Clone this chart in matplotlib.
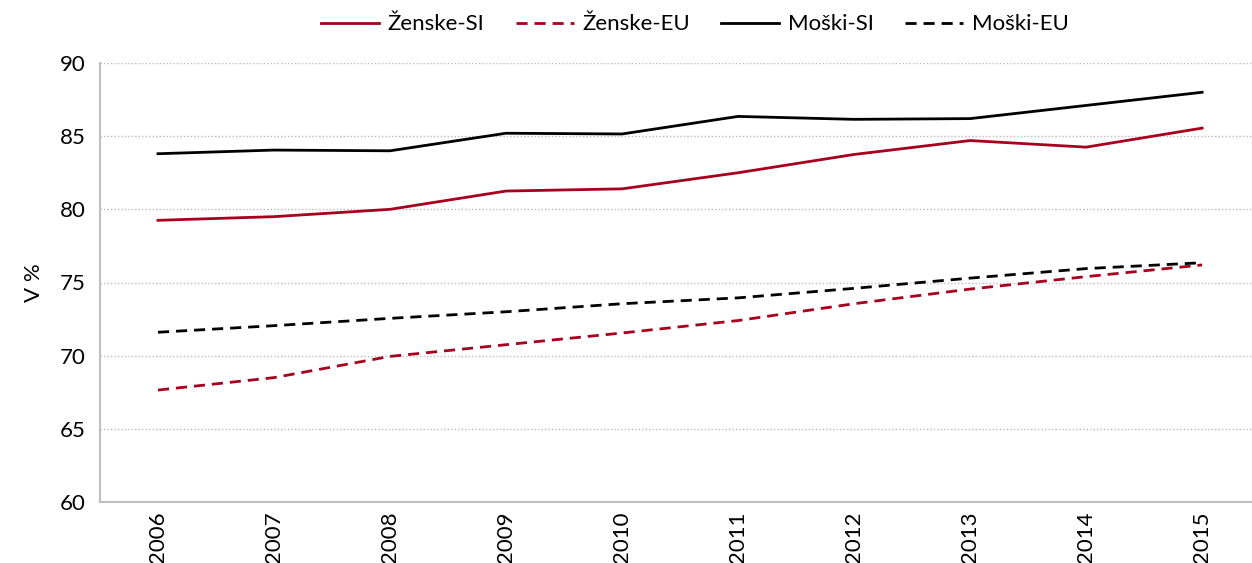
import numpy as np
import matplotlib
matplotlib.use("Agg")
from matplotlib import pyplot as plt

plt.rcParams['font.family'] = ['Lato', 'DejaVu Sans']

years = ['2006', '2007', '2008', '2009', '2010', '2011', '2012', '2013', '2014', '2015']
zenske_si = [79.25, 79.5, 80.0, 81.25, 81.4, 82.5, 83.75, 84.7, 84.25, 85.55]
zenske_eu = [67.65, 68.5, 69.95, 70.75, 71.55, 72.4, 73.55, 74.55, 75.4, 76.2]
moski_si = [83.8, 84.05, 84.0, 85.2, 85.15, 86.35, 86.15, 86.2, 87.1, 88.0]
moski_eu = [71.6, 72.05, 72.55, 73.0, 73.55, 73.95, 74.6, 75.3, 75.95, 76.35]

red = '#A6001E'

fig = plt.figure(figsize=(12.52, 5.63), dpi=100)
ax = fig.add_axes([100/1252, 1 - 502/563, 1 - 100/1252, (502 - 63)/563])

x = np.arange(len(years))
ax.plot(x, zenske_si, color=red, lw=2, label='Ženske-SI')
ax.plot(x, zenske_eu, color=red, lw=2, ls=(0, (4, 2.5)), label='Ženske-EU')
ax.plot(x, moski_si, color='black', lw=2, label='Moški-SI')
ax.plot(x, moski_eu, color='black', lw=2, ls=(0, (4, 2.5)), label='Moški-EU')

ax.set_xlim(-0.5, 9.43)
ax.set_ylim(60, 90)
ax.set_yticks(range(60, 91, 5))
ax.set_xticks(x)
ax.set_xticklabels(years, rotation=90)
ax.tick_params(length=0, labelsize=16, colors='black')
ax.tick_params(axis='y', pad=10)
ax.tick_params(axis='x', pad=7)
ax.yaxis.grid(True, color='#BBBBBB', ls=(0, (1, 1.5)), lw=1)
ax.set_axisbelow(True)

for s in ['top', 'right']:
    ax.spines[s].set_visible(False)
for s in ['left', 'bottom']:
    ax.spines[s].set_color('#BFBFBF')
    ax.spines[s].set_linewidth(1.5)

ax.set_ylabel('V %', fontsize=16, labelpad=12)

fig.legend(loc='upper center', bbox_to_anchor=(0.555, 1.01), ncol=4, frameon=False,
           fontsize=16, handlelength=2.6, columnspacing=1.4, handletextpad=0.4)

fig.savefig('out.png', dpi=100)
